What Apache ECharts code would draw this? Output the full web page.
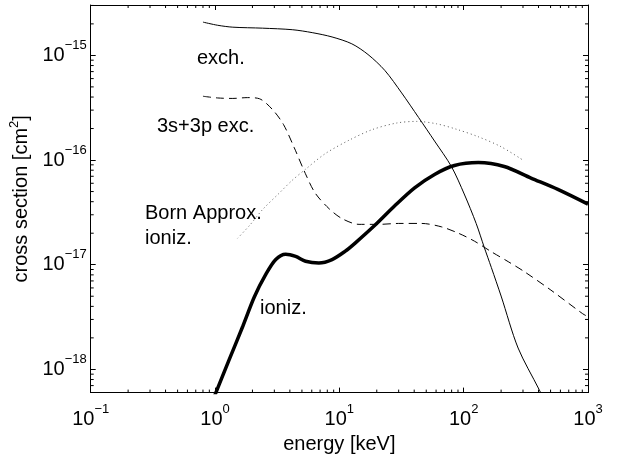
<!DOCTYPE html>
<html>
<head>
<meta charset="utf-8">
<script src="https://cdn.jsdelivr.net/npm/echarts@6/dist/echarts.min.js"></script>
<style>
  html, body { margin: 0; padding: 0; background: #fff; }
  #chart { width: 618px; height: 459px; }
</style>
</head>
<body>
<div id="chart"></div>
<script>
// energy in keV, cross section in cm^2
const exchX = [0.80, 1.05, 1.39, 2.41, 4.18, 6.05, 8.74, 12.6, 17.0, 23.2, 31.7, 43.4, 58.3, 79.7, 101, 126, 146, 167, 200, 274, 403, 455];
const exchY = [2.08e-15, 1.94e-15, 1.86e-15, 1.82e-15, 1.76e-15, 1.65e-15, 1.50e-15, 1.29e-15, 1.02e-15, 7.19e-16, 4.38e-16, 2.55e-16, 1.52e-16, 8.67e-17, 4.74e-17, 2.48e-17, 1.48e-17, 9.39e-18, 5.02e-18, 1.60e-18, 6.47e-19, 4.8e-19];

const excX = [0.80, 1.05, 1.39, 1.83, 2.28, 2.89, 3.55, 4.34, 5.32, 6.39, 8.27, 10.5, 14.4, 20.8, 30.0, 45.9, 66.3, 90.7, 122, 167, 228, 306, 503, 907, 1000];
const excY = [4.07e-16, 3.92e-16, 3.88e-16, 3.95e-16, 3.85e-16, 3.05e-16, 2.19e-16, 1.31e-16, 7.46e-17, 4.84e-17, 3.43e-17, 2.76e-17, 2.43e-17, 2.43e-17, 2.48e-17, 2.48e-17, 2.30e-17, 2.00e-17, 1.68e-17, 1.33e-17, 1.07e-17, 8.62e-18, 5.72e-18, 3.40e-18, 3.19e-18];

const bornX = [1.52, 1.90, 2.41, 3.29, 4.18, 5.32, 7.69, 12.0, 18.3, 29.0, 41.8, 60.5, 87.4, 131, 200, 300];
const bornY = [1.79e-17, 2.38e-17, 3.36e-17, 4.84e-17, 6.41e-17, 8.13e-17, 1.15e-16, 1.55e-16, 1.95e-16, 2.26e-16, 2.34e-16, 2.22e-16, 1.97e-16, 1.67e-16, 1.34e-16, 9.98e-17];

const ionX = [0.97, 1.02, 1.30, 1.67, 2.07, 2.56, 3.08, 3.70, 4.45, 5.35, 6.84, 8.74, 11.1, 13.4, 19.3, 27.9, 40.3, 58.3, 84.3, 131, 212, 348, 572, 1000];
const ionY = [5.2e-19, 6.07e-19, 1.24e-18, 2.57e-18, 4.92e-18, 8.07e-18, 1.12e-17, 1.26e-17, 1.20e-17, 1.08e-17, 1.04e-17, 1.12e-17, 1.34e-17, 1.61e-17, 2.38e-17, 3.66e-17, 5.43e-17, 7.29e-17, 8.87e-17, 9.46e-17, 8.67e-17, 6.73e-17, 5.24e-17, 3.79e-17];

// axis ranges and minor tick positions
const xMin = 0.1, xMax = 1000;
const yMin = 6e-19, yMax = 3.03e-15;
const minorXTicks = [0.2, 0.3, 0.4, 0.5, 0.6, 0.7, 0.8, 0.9, 2, 3, 4, 5, 6, 7, 8, 9,
  20, 30, 40, 50, 60, 70, 80, 90, 200, 300, 400, 500, 600, 700, 800, 900];
const minorYTicks = [7e-19, 8e-19, 9e-19, 2e-18, 3e-18, 4e-18, 5e-18, 6e-18, 7e-18, 8e-18, 9e-18,
  2e-17, 3e-17, 4e-17, 5e-17, 6e-17, 7e-17, 8e-17, 9e-17, 2e-16, 3e-16, 4e-16, 5e-16, 6e-16,
  7e-16, 8e-16, 9e-16, 2e-15, 3e-15];

const FONT = 'Liberation Sans, Arial, Helvetica, sans-serif';

const zip = (xs, ys) => xs.map((x, i) => [x, ys[i]]);

const powLabel = (v) => {
  const l = Math.log10(v);
  const e = Math.round(l);
  if (Math.abs(l - e) > 1e-6) return '';
  return '{b|10}{s|' + String(e).replace('-', '\u2212') + '}';
};

const labelRich = {
  b: { fontSize: 20, fontFamily: FONT, color: '#000' },
  s: { fontSize: 13, fontFamily: FONT, color: '#000', padding: [0, 0, 20, 0] }
};

const chart = echarts.init(document.getElementById('chart'));

const line = (name, xs, ys, style) => ({
  name: name,
  type: 'line',
  xAxisIndex: 0,
  yAxisIndex: 0,
  data: zip(xs, ys),
  showSymbol: false,
  symbol: 'none',
  smooth: 0.3,
  lineStyle: style,
  z: 3
});

const tickMarks = (vals, isX) => ({
  type: 'custom',
  xAxisIndex: 0,
  yAxisIndex: 0,
  silent: true,
  clip: false,
  data: vals.map(v => isX ? [v, yMin] : [xMin, v]),
  renderItem: (params, api) => {
    const v = api.value(isX ? 0 : 1);
    let a, b;
    if (isX) {
      a = api.coord([v, yMin]);
      b = api.coord([v, yMax]);
      return { type: 'group', children: [
        { type: 'line', shape: { x1: a[0], y1: a[1], x2: a[0], y2: a[1] - 3 }, style: { stroke: '#000', lineWidth: 1 } },
        { type: 'line', shape: { x1: b[0], y1: b[1], x2: b[0], y2: b[1] + 3 }, style: { stroke: '#000', lineWidth: 1 } }
      ] };
    }
    a = api.coord([xMin, v]);
    b = api.coord([xMax, v]);
    return { type: 'group', children: [
      { type: 'line', shape: { x1: a[0], y1: a[1], x2: a[0] + 3, y2: a[1] }, style: { stroke: '#000', lineWidth: 1 } },
      { type: 'line', shape: { x1: b[0], y1: b[1], x2: b[0] - 3, y2: b[1] }, style: { stroke: '#000', lineWidth: 1 } }
    ] };
  }
});

const axisBase = {
  type: 'log',
  logBase: 10,
  splitLine: { show: false },
  axisLine: { show: true, onZero: false, lineStyle: { color: '#000', width: 1 } },
  axisTick: { show: true, inside: true, length: 5, lineStyle: { color: '#000', width: 1 } },
  minorTick: { show: false }
};

const note = (text, x, y) => ({
  type: 'text',
  x: x,
  y: y,
  style: { text: text, fontSize: 20, fontFamily: FONT, fill: '#000', align: 'left', verticalAlign: 'middle' }
});

const option = {
  animation: false,
  backgroundColor: '#fff',
  grid: { left: 87, right: 30, top: 5, bottom: 59, containLabel: false },
  xAxis: [
    Object.assign({}, axisBase, {
      position: 'bottom', min: xMin, max: xMax,
      name: 'energy [keV]', nameLocation: 'middle', nameGap: 32,
      nameTextStyle: { fontSize: 20, fontFamily: FONT, color: '#000' },
      axisLabel: { margin: 10, formatter: powLabel, rich: labelRich, showMinLabel: true, showMaxLabel: true }
    }),
    Object.assign({}, axisBase, {
      position: 'top', min: xMin, max: xMax, axisLabel: { show: false }
    })
  ],
  yAxis: [
    Object.assign({}, axisBase, {
      position: 'left', min: yMin, max: yMax,
      name: 'cross section [cm{s|2}]', nameLocation: 'middle', nameGap: 46, nameRotate: 90,
      nameTextStyle: { fontSize: 20, fontFamily: FONT, color: '#000',
        rich: { s: { fontSize: 13, fontFamily: FONT, color: '#000', padding: [0, 0, 14, 0] } } },
      axisLabel: { margin: 4, formatter: powLabel, rich: labelRich, showMinLabel: false, showMaxLabel: false }
    }),
    Object.assign({}, axisBase, {
      position: 'right', min: yMin, max: yMax, axisLabel: { show: false }
    })
  ],
  graphic: [
    note('exch.', 197, 58),
    note('3s+3p exc.', 157, 126),
    note('Born Approx.', 145, 213),
    note('ioniz.', 145, 238),
    note('ioniz.', 260, 308)
  ],
  series: [
    line('exch.', exchX, exchY, { color: '#000', width: 1, type: 'solid' }),
    line('3s+3p exc.', excX, excY, { color: '#000', width: 1, type: [8, 5] }),
    line('Born Approx. ioniz.', bornX, bornY, { color: '#555', width: 1, type: [1, 3] }),
    line('ioniz.', ionX, ionY, { color: '#000', width: 3.5, type: 'solid' }),
    tickMarks(minorXTicks, true),
    tickMarks(minorYTicks, false)
  ]
};

chart.setOption(option);
</script>
</body>
</html>
